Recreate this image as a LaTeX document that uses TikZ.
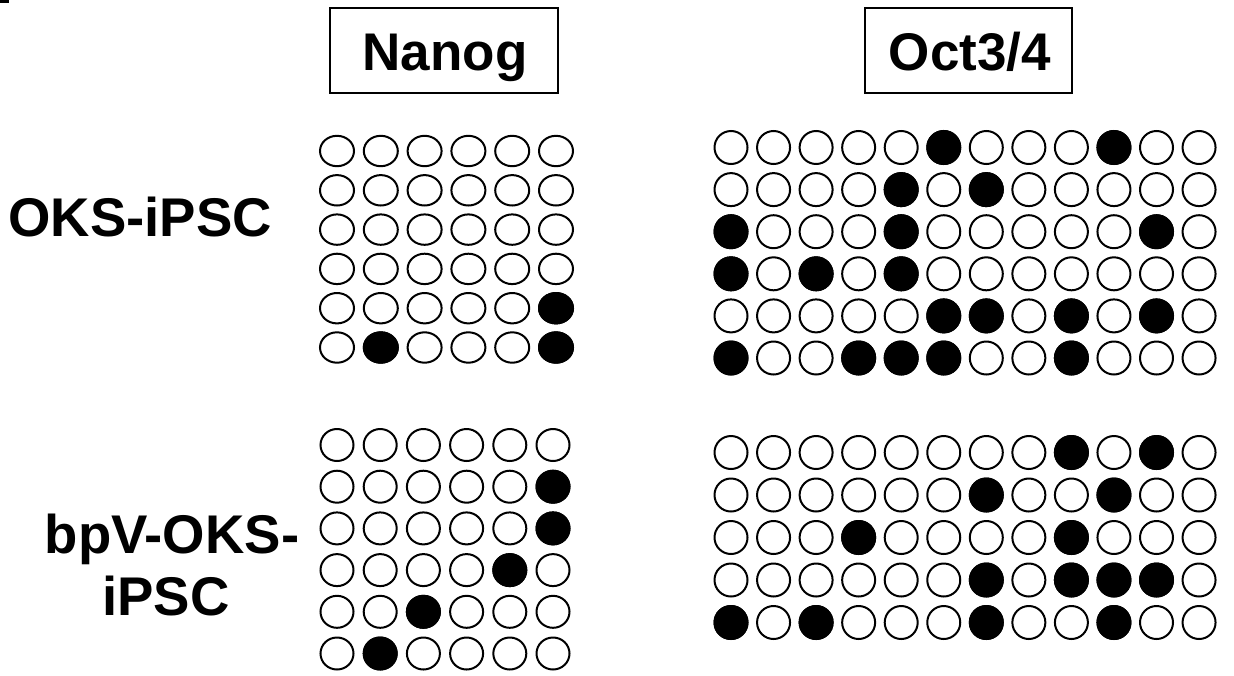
\documentclass[tikz,border=0pt]{standalone}
\usepackage{fontspec}
\setmainfont{Liberation Sans}
\tikzset{
  dotline/.style={draw=black,line width=2pt,fill=white},
  dotfill/.style={draw=black,line width=2pt,fill=black},
  headbox/.style={draw=black,line width=2pt,minimum width=228pt,minimum height=85pt,inner sep=0pt},
  lbl/.style={font=\fontsize{53}{62}\selectfont\bfseries,inner sep=0pt},
  rowlbl/.style={font=\fontsize{54.5}{62}\selectfont\bfseries,inner sep=0pt},
}
\newcommand\dotgrid[9]{%
  \foreach \rr in {1,...,#8}{\foreach \cc in {1,...,#7}{%
    \draw[dotline] ({#1+(\cc-1)*#2},{#3+(\rr-1)*#4}) ellipse [x radius=#5, y radius=#6];}}
  \foreach \rr/\cc in {#9}{%
    \draw[dotfill] ({#1+(\cc-1)*#2},{#3+(\rr-1)*#4}) ellipse [x radius=#5, y radius=#6];}
}
\begin{document}
\begin{tikzpicture}[x=1pt,y=-1pt]
\useasboundingbox (0,0) rectangle (1234,675);
% cut-off mark at top-left corner
\fill (0,0) rectangle (9,3);
% headers
\node[headbox] (nanogbox) at (444,50.5) {};
\node[headbox,minimum width=207pt] (octbox) at (968.5,50.5) {};
\node[lbl,anchor=base] (nanog) at (445,70) {Nanog};
\node[lbl,anchor=base] (oct) at (970,70) {Oct3/4};
% row labels
\node[rowlbl,anchor=base] (oks) at (140,236) {OKS-iPSC};
\node[rowlbl,anchor=base] (bpv1) at (172,553) {bpV-OKS-};
\node[rowlbl,anchor=base] (bpv2) at (166,615) {iPSC};
% Nanog, OKS-iPSC
\dotgrid{337}{43.8}{151}{39.3}{17}{15.2}{6}{6}{5/6,6/2,6/6}
% Nanog, bpV-OKS-iPSC
\dotgrid{337}{43.2}{445}{41.7}{16.5}{16}{6}{6}{2/6,3/6,4/5,5/3,6/2}
% Oct3/4, OKS-iPSC
\dotgrid{731}{42.55}{147.5}{42.1}{16.5}{16.5}{12}{6}{1/6,1/10,2/5,2/7,3/1,3/5,3/11,4/1,4/3,4/5,5/6,5/7,5/9,5/11,6/1,6/4,6/5,6/6,6/9}
% Oct3/4, bpV-OKS-iPSC
\dotgrid{731}{42.55}{452.5}{42.5}{16.5}{16.5}{12}{5}{1/9,1/11,2/7,2/10,3/4,3/9,4/7,4/9,4/10,4/11,5/1,5/3,5/7,5/10}
\end{tikzpicture}
\end{document}
